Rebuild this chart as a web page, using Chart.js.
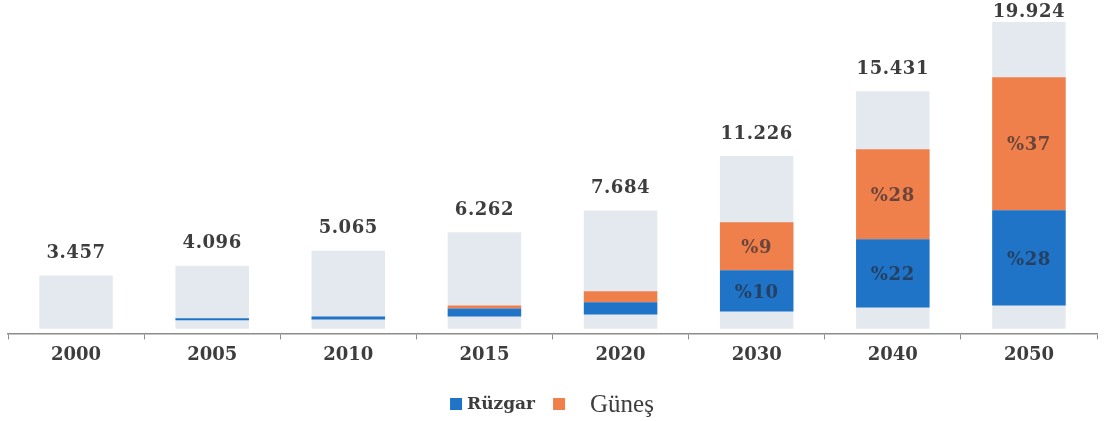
<!DOCTYPE html>
<html>
<head>
<meta charset="utf-8">
<script src="https://cdn.jsdelivr.net/npm/chart.js@4"></script>
<style>
  body { margin: 0; background: #fff; }
  #wrap { width: 1104px; height: 421px; }
</style>
</head>
<body>
<div id="wrap"><canvas id="chart" width="1104" height="421"></canvas></div>
<script>
var years = ['2000', '2005', '2010', '2015', '2020', '2030', '2040', '2050'];
var totals = [3457, 4096, 5065, 6262, 7684, 11226, 15431, 19924];
// part of each total sitting under the wind segment
var baseBelow = [0, 550, 610, 805, 935, 1130, 1390, 1520];
var wind = [0, 130, 195, 520, 780, 2665, 4420, 6175];
var solar = [0, 0, 0, 195, 715, 3120, 5850, 8645];
var windShare = [null, null, null, null, null, 10, 22, 28];
var solarShare = [null, null, null, null, null, 9, 28, 37];

var GRAY = '#e4e9f0';
var BLUE = '#1f74c7';
var ORANGE = '#f0804b';
var TEXT = '#3d3d3d';
var SERIF = '"DejaVu Serif", serif';

var windBars = [], solarBars = [];
for (var i = 0; i < years.length; i++) {
  var w0 = baseBelow[i], w1 = w0 + wind[i];
  windBars.push(wind[i] ? [w0, w1] : null);
  solarBars.push(solar[i] ? [w1, w1 + solar[i]] : null);
}

function dotted(v) {
  return String(v).replace(/\B(?=(\d{3})+(?!\d))/g, '.');
}

var barLabels = {
  id: 'barLabels',
  afterDatasetsDraw: function(chart) {
    var ctx = chart.ctx;
    ctx.save();
    ctx.textAlign = 'center';
    ctx.textBaseline = 'middle';
    ctx.letterSpacing = '0.6px';
    ctx.font = 'bold 18px ' + SERIF;
    ctx.fillStyle = TEXT;
    chart.getDatasetMeta(0).data.forEach(function(bar, i) {
      ctx.fillText(dotted(totals[i]), bar.x, Math.max(bar.y - 22, 12));
    });
    ctx.fillStyle = 'rgba(40, 40, 50, 0.68)';
    [[1, windShare], [2, solarShare]].forEach(function(p) {
      chart.getDatasetMeta(p[0]).data.forEach(function(bar, i) {
        if (p[1][i] == null) return;
        ctx.fillText('%' + p[1][i], bar.x, (bar.y + bar.base) / 2 + 2);
      });
    });
    ctx.restore();
  }
};

// legend drawn by hand: the two entries use different type sizes
var customLegend = {
  id: 'customLegend',
  afterDraw: function(chart) {
    var ctx = chart.ctx;
    var items = [
      { text: chart.data.datasets[1].label, color: BLUE, font: 'bold 17px ' + SERIF, gap: 5 },
      { text: chart.data.datasets[2].label, color: ORANGE, font: '25px "Liberation Serif", serif', gap: 25 }
    ];
    var box = 12, between = 18, y = 404;
    ctx.save();
    var total = 0;
    items.forEach(function(it, k) {
      ctx.font = it.font;
      it.w = ctx.measureText(it.text).width;
      total += box + it.gap + it.w + (k ? 0 : between);
    });
    var x = (chart.width - total) / 2;
    ctx.textBaseline = 'middle';
    items.forEach(function(it) {
      ctx.fillStyle = it.color;
      ctx.fillRect(x, y - box / 2, box, box);
      x += box + it.gap;
      ctx.font = it.font;
      ctx.fillStyle = TEXT;
      ctx.fillText(it.text, x, y + 1);
      x += it.w + between;
    });
    ctx.restore();
  }
};

new Chart(document.getElementById('chart'), {
  type: 'bar',
  data: {
    labels: years,
    datasets: [
      { label: 'Toplam', data: totals, backgroundColor: GRAY, order: 1 },
      { label: 'Rüzgar', data: windBars, backgroundColor: BLUE, order: 0 },
      { label: 'Güneş', data: solarBars, backgroundColor: ORANGE, order: 0 }
    ]
  },
  options: {
    responsive: false,
    animation: false,
    layout: { padding: { top: 22, left: 8, right: 7, bottom: 50 } },
    datasets: {
      bar: { grouped: false, barPercentage: 1, categoryPercentage: 0.54, borderWidth: 0 }
    },
    plugins: {
      legend: { display: false },
      tooltip: { enabled: false }
    },
    scales: {
      x: {
        grid: { display: true, drawOnChartArea: false, drawTicks: true, tickLength: 6, color: '#8c8c8c', offset: true },
        border: { display: true, color: '#8c8c8c', width: 1.5 },
        ticks: { color: TEXT, padding: 5, font: { family: SERIF, size: 18, weight: 'bold' } }
      },
      y: {
        display: false,
        // small negative floor keeps the bars just clear of the axis line
        min: -300,
        max: Math.max.apply(null, totals)
      }
    }
  },
  plugins: [barLabels, customLegend]
});
</script>
</body>
</html>
